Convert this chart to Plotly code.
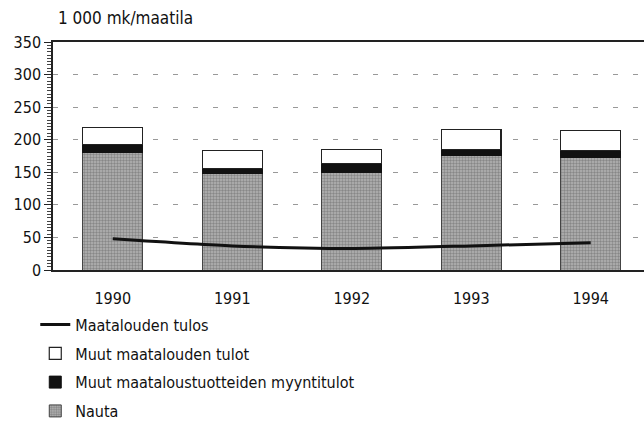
import plotly.graph_objects as go

years = ["1990", "1991", "1992", "1993", "1994"]
nauta = [181, 148, 150, 176, 172]
muut_myynti = [12, 8, 14, 9, 11]
muut_tulot = [26, 28, 21, 31, 31]
tulos = [48, 37, 33, 37, 42]

FONT = "DejaVu Sans Condensed, Liberation Sans Narrow, Liberation Sans, Arial"

fig = go.Figure()
fig.add_trace(go.Bar(
    x=years, y=nauta, name="Nauta", width=0.5,
    marker=dict(color="#999999", line=dict(color="#444", width=1),
                pattern=dict(shape=".", fgcolor="#5a5a5a", bgcolor="#b4b4b4", size=3, solidity=0.5)),
    legendrank=4, legendgroup="d",
))
fig.add_trace(go.Bar(
    x=years, y=muut_myynti, name="Muut maataloustuotteiden myyntitulot", width=0.5,
    marker=dict(color="#111", line=dict(color="#111", width=1)),
    legendrank=3, legendgroup="c",
))
fig.add_trace(go.Bar(
    x=years, y=muut_tulot, name="Muut maatalouden tulot", width=0.5,
    marker=dict(color="white", line=dict(color="#222", width=1.2)),
    legendrank=2, legendgroup="b",
))
fig.add_trace(go.Scatter(
    x=years, y=tulos, name="Maatalouden tulos", mode="lines",
    line=dict(color="#111", width=3, shape="spline", smoothing=0.6),
    legendrank=1, legendgroup="a",
))

fig.update_layout(
    width=644, height=421,
    margin=dict(l=53, r=0, t=42, b=151, autoexpand=False),
    barmode="stack",
    paper_bgcolor="white", plot_bgcolor="white",
    font=dict(family=FONT, size=16, color="#111"),
    showlegend=True,
    legend=dict(x=-0.03, xanchor="left", y=-0.165, yanchor="top",
                font=dict(family=FONT, size=16, color="#111"),
                traceorder="grouped", itemwidth=30, tracegroupgap=5,
                bgcolor="rgba(0,0,0,0)"),
    annotations=[dict(text="1 000 mk/maatila", x=0.005, y=1.0, xref="paper", yref="paper",
                      xanchor="left", yanchor="bottom", yshift=12, showarrow=False,
                      font=dict(family=FONT, size=17, color="#111"))],
)
fig.update_xaxes(
    type="category", range=[-0.5, 4.446], automargin=False,
    showline=True, linecolor="#222", linewidth=1.5, mirror=True,
    ticks="", showgrid=False, ticklabelstandoff=13,
    tickfont=dict(family=FONT, size=16, color="#111"),
)
fig.update_yaxes(
    range=[0, 350], tickvals=[0, 50, 100, 150, 200, 250, 300, 350], automargin=False,
    showline=True, linecolor="#222", linewidth=1.5,
    ticks="outside", ticklen=7, tickcolor="#222", tickwidth=1,
    minor=dict(dtick=5, ticks="outside", ticklen=4, tickcolor="#444", showgrid=False),
    showgrid=True, gridcolor="#999", gridwidth=1, griddash="5px,15px",
    tickfont=dict(family=FONT, size=16, color="#111"),
    zeroline=False,
)

fig.write_html("out.html", config={"displayModeBar": False},
               post_script="document.body.style.margin='0';document.body.style.overflow='hidden';")
